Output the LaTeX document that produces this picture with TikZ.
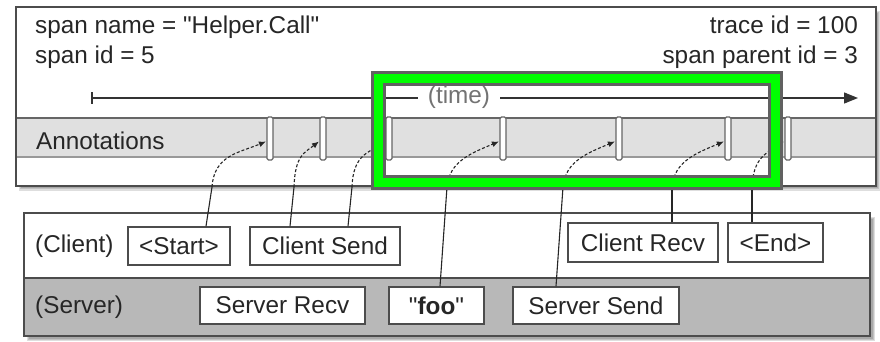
\documentclass[tikz,border=0pt]{standalone}
\usepackage{fontspec}
\setmainfont{Liberation Sans}[Ligatures=TeXOff]
\usetikzlibrary{arrows.meta,calc}
\begin{document}
\begin{tikzpicture}[x=1pt,y=-1pt,
  font=\fontsize{24.3}{27}\selectfont,
  txt/.style={text=black!85, inner sep=0pt},
  lbl/.style={draw=black!70, line width=1.5pt, fill=white, inner sep=0pt, text=black!85},
  marker/.style={draw=black!60, fill=white, line width=1.2pt, rounded corners=1.5pt, minimum width=6pt, minimum height=43pt, inner sep=0pt},
  conn/.style={black!85, line width=1.1pt},
  dashconn/.style={conn, dash pattern=on 3pt off 2pt, -{Latex[length=7pt,width=6pt]}},
  shadowfill/.style={fill=black, opacity=0.13}
]
\useasboundingbox (0,0) rectangle (880,341);
\fill[white] (0,0) rectangle (880,341);

% ---------- top box ----------
\fill[shadowfill] (19,11) rectangle (880,191);
\fill[shadowfill] (20,12) rectangle (879,189);
\fill[shadowfill] (21,13) rectangle (878,188);
\fill[white] (16,7) rectangle (876,186);
\fill[black!12] (17,118) rectangle (875,156);
\draw[black!60, line width=1.5pt] (16,118) -- (876,118);
\draw[black!40, line width=2.5pt] (16,157) -- (876,157);
\draw[black!70, line width=2pt] (16,7) rectangle (876,186);

\node[txt, anchor=base west] (sname) at (35,33) {span name = "Helper.Call"};
\node[txt, anchor=base west] (sid) at (35,63) {span id = 5};
\node[txt, anchor=base east] (tid) at (858,33) {trace id = 100};
\node[txt, anchor=base east] (pid) at (858,63) {span parent id = 3};
\node[txt, anchor=base west] (ann) at (36,149) {Annotations};

% timeline
\node[text=black!55, inner xsep=10pt, inner ysep=0pt] (time) at (459,97) {(time)};
\coordinate (t0) at (92,98);
\coordinate (t1) at (858,98);
\draw[black!80, line width=1.2pt] (92,92) -- (92,104);
\draw[black!80, line width=1.2pt] (t0) -- (time.west |- t0);
\draw[black!80, line width=1.2pt, -{Triangle[length=14pt,width=11pt]}] (time.east |- t1) -- (t1);

% markers
\node[marker] (m1) at (270,138.5) {};
\node[marker] (m2) at (323,138.5) {};
\node[marker] (m3) at (389,138.5) {};
\node[marker] (m4) at (503,138.5) {};
\node[marker] (m5) at (619,138.5) {};
\node[marker] (m6) at (728,138.5) {};
\node[marker] (m7) at (788,138.5) {};

% ---------- bottom box ----------
\fill[shadowfill] (27,217) rectangle (875,341);
\fill[shadowfill] (28,218) rectangle (874,340);
\fill[shadowfill] (29,219) rectangle (873,339);
\fill[white] (24,213) rectangle (870,278);
\fill[black!28] (24,278) rectangle (870,336);
\draw[black!70, line width=2pt] (24,278) -- (870,278);
\draw[black!70, line width=2pt] (24,213) rectangle (870,336);

\node[txt, anchor=west] (client) at (35,246) {(Client)};
\node[txt, anchor=west] (server) at (35,307) {(Server)};

\node[lbl, minimum width=102pt, minimum height=38pt] (start) at (179,246) {<Start>};
\node[lbl, minimum width=150pt, minimum height=38pt] (csend) at (325,246) {Client Send};
\node[lbl, minimum width=150pt, minimum height=39pt] (crecv) at (643,242.5) {Client Recv};
\node[lbl, minimum width=95pt, minimum height=39pt] (end) at (775.5,242.5) {<End>};
\node[lbl, minimum width=165pt, minimum height=37pt] (srecv) at (282.5,305.5) {Server Recv};
\node[lbl, minimum width=95pt, minimum height=37pt] (foo) at (436.5,305.5) {"\textbf{foo}"};
\node[lbl, minimum width=166pt, minimum height=37pt] (ssend) at (596,305.5) {Server Send};

% ---------- connectors ----------
\coordinate (b1) at (212,187);
\coordinate (b2) at (294,187);
\coordinate (b3) at (352,187);
\coordinate (b4) at (447,187);
\coordinate (b5) at (563,187);
\coordinate (b6) at (672,187);
\coordinate (b7) at (752,187);

\draw[conn] ($(start.north)+(27,0)$) -- (b1);
\draw[conn] ($(csend.north)+(-35,0)$) -- (b2);
\draw[conn] ($(csend.north)+(23,0)$) -- (b3);
\draw[conn] ($(foo.north)+(3.5,0)$) -- (b4);
\draw[conn] ($(ssend.north)+(-40,0)$) -- (b5);
\draw[conn] ($(crecv.north)+(29,0)$) -- (b6);
\draw[conn] ($(end.north)+(-23.5,0)$) -- (b7);

\draw[dashconn] (b1) .. controls +(2,-32) and +(-26,11) .. ($(m1.west)+(-0.5,3)$);
\draw[dashconn] (b2) .. controls +(1,-32) and +(-14,11) .. ($(m2.west)+(-0.5,3)$);
\draw[dashconn] (b3) .. controls +(1,-32) and +(-16,11) .. ($(m3.west)+(-0.5,3)$);
\draw[dashconn] (b4) .. controls +(2,-26) and +(-26,11) .. ($(m4.west)+(-0.5,3)$);
\draw[dashconn] (b5) .. controls +(2,-26) and +(-26,11) .. ($(m5.west)+(-0.5,3)$);
\draw[dashconn] (b6) .. controls +(2,-26) and +(-26,11) .. ($(m6.west)+(-0.5,3)$);
\draw[dashconn] (b7) .. controls +(1,-30) and +(-16,11) .. ($(m7.west)+(-0.5,3)$);

% ---------- green highlight frame ----------
\draw[black!62, line width=15pt] (378.5,78.5) rectangle (775.5,182);
\draw[green, line width=9pt] (378.5,78.5) rectangle (775.5,182);
\end{tikzpicture}
\end{document}
